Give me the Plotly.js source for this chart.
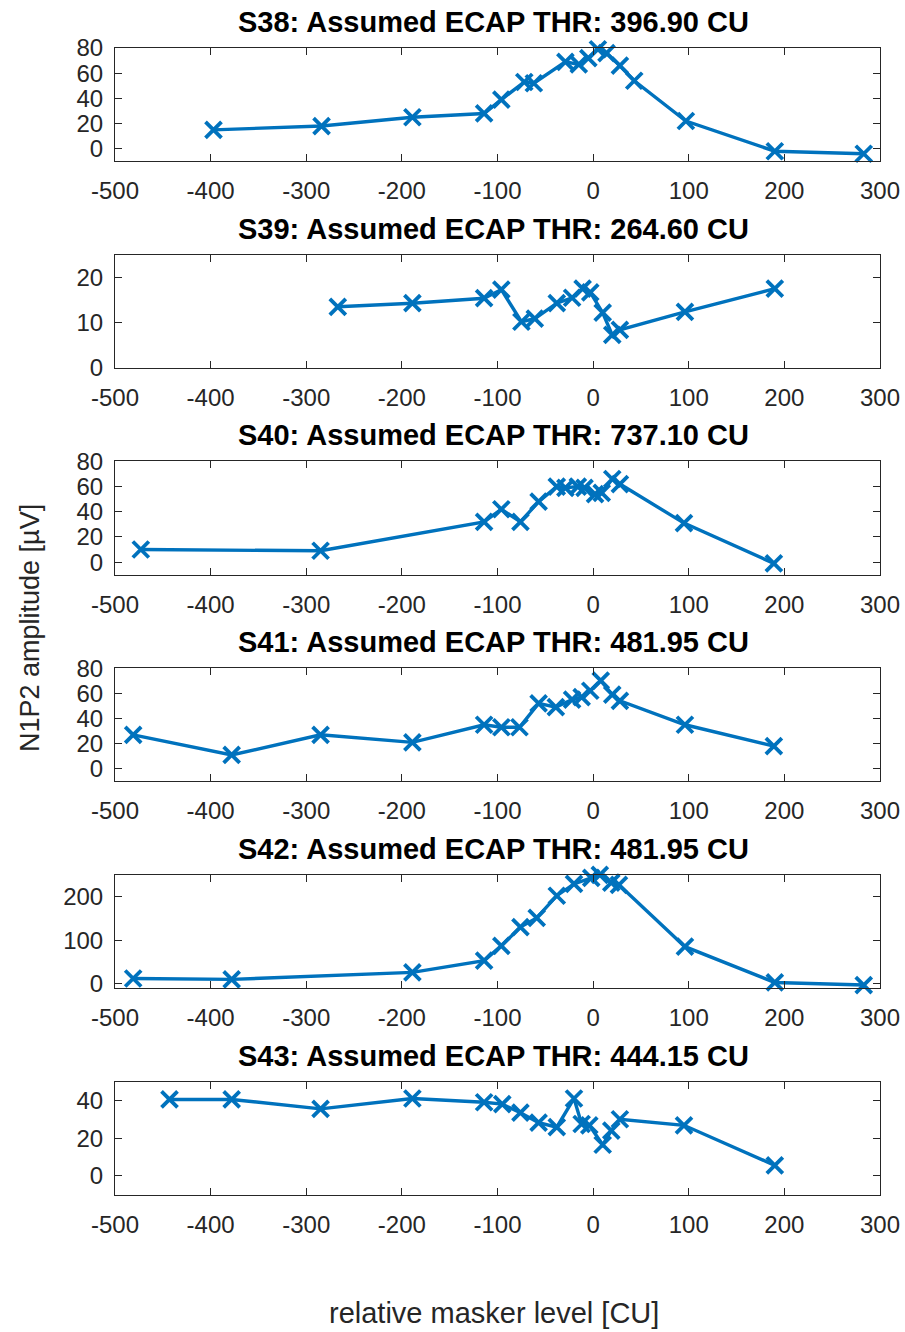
<!DOCTYPE html>
<html><head><meta charset="utf-8">
<script src="https://cdn.plot.ly/plotly-3.0.1.min.js"></script>
<style>html,body{margin:0;padding:0;background:#fff}</style>
</head><body><div id="chart" style="width:905px;height:1332px"></div>
<script>
// ---- data ----
const subjects = ['S38', 'S39', 'S40', 'S41', 'S42', 'S43'];
const thresholdsCU = ['396.90', '264.60', '737.10', '481.95', '481.95', '444.15'];

const xS38 = [-397, -284, -189, -114, -96, -72, -62, -29, -15, -5, 5, 14, 28, 43, 97, 190, 283];
const yS38 = [15, 18, 25, 28, 39, 53, 52, 69, 67, 72, 79, 76, 66, 54, 22, -2, -4];

const xS39 = [-267, -189, -114, -96, -75, -61, -38, -22, -11, -3, 10, 20, 28, 96, 190];
const yS39 = [13.5, 14.3, 15.4, 17.3, 10.2, 10.9, 14.3, 15.5, 17.5, 16.7, 12.2, 7.3, 8.4, 12.4, 17.5];

const xS40 = [-473, -285, -114, -96, -76, -57, -38, -29, -16, -9, 2, 9, 20, 28, 95, 189];
const yS40 = [10, 9, 32, 42, 32, 48, 60, 59, 60, 59, 54, 55, 66, 62, 31, -1];

const xS41 = [-481, -378, -285, -189, -114, -96, -77, -57, -39, -22, -12, -3, 8, 20, 28, 96, 189];
const yS41 = [27, 11, 27, 21, 35, 33, 33, 52, 49, 55, 57, 62, 70, 59, 54, 35, 18];

const xS42 = [-481, -378, -189, -114, -96, -76, -59, -38, -20, -2, 7, 19, 27, 96, 190, 283];
const yS42 = [12, 10, 26, 53, 87, 130, 151, 202, 229, 243, 250, 232, 227, 85, 3, -3];

const xS43 = [-443, -378, -285, -189, -114, -95, -76, -57, -38, -20, -12, -4, 10, 19, 28, 95, 190];
const yS43 = [40.5, 40.5, 35.5, 41, 39, 38, 33.5, 28.2, 25.8, 41, 27.5, 26.8, 16.5, 24, 30, 26.8, 5.6];

const xTickVals = [-500, -400, -300, -200, -100, 0, 100, 200, 300];
const yTickS38 = [0, 20, 40, 60, 80];
const yTickS39 = [0, 10, 20];
const yTickS40 = [0, 20, 40, 60, 80];
const yTickS41 = [0, 20, 40, 60, 80];
const yTickS42 = [0, 100, 200];
const yTickS43 = [0, 20, 40];

const xLabel = 'relative masker level [CU]';
const yLabel = 'N1P2 amplitude [µV]';

// ---- build ----
const xs = [xS38, xS39, xS40, xS41, xS42, xS43];
const ys = [yS38, yS39, yS40, yS41, yS42, yS43];
const yticks = [yTickS38, yTickS39, yTickS40, yTickS41, yTickS42, yTickS43];
const yRanges = [[-10, 80], [0, 25], [-10, 80], [-10, 80], [-10, 250], [-10, 50]];

const W = 905, H = 1332;
const mL = 115, mR = 25;
const plotW = W - mL - mR;
const lineColor = '#0072BD';
const axisColor = '#262626';
const fontFam = '"Liberation Sans", Arial, Helvetica, sans-serif';

const traces = [];
const layout = {
  width: W, height: H,
  margin: {l: mL, r: mR, t: 0, b: 0, pad: 0},
  paper_bgcolor: '#fff', plot_bgcolor: '#fff',
  showlegend: false,
  font: {family: fontFam, size: 24, color: axisColor},
  annotations: []
};

for (let i = 0; i < subjects.length; i++) {
  const n = i === 0 ? '' : String(i + 1);
  const topPx = 48 + 206.7 * i;
  const botPx = topPx + 113.3;
  traces.push({
    type: 'scatter', mode: 'lines+markers',
    x: xs[i], y: ys[i],
    xaxis: 'x' + n, yaxis: 'y' + n,
    line: {color: lineColor, width: 3.4},
    marker: {symbol: 'x-thin', size: 16, line: {color: lineColor, width: 3.8}, color: lineColor},
    cliponaxis: false,
    hoverinfo: 'skip'
  });
  const common = {
    showline: true, linecolor: axisColor, linewidth: 1,
    mirror: 'ticks', ticks: 'inside', ticklen: 7, tickwidth: 1, tickcolor: axisColor,
    showgrid: false, zeroline: false,
    tickfont: {family: fontFam, size: 24, color: axisColor}
  };
  layout['xaxis' + n] = Object.assign({}, common, {
    domain: [0, 1], anchor: 'y' + n, range: [-500, 300],
    tickmode: 'array', tickvals: xTickVals, ticktext: xTickVals.map(String),
    ticklabelstandoff: 8
  });
  layout['yaxis' + n] = Object.assign({}, common, {
    domain: [1 - botPx / H, 1 - topPx / H], anchor: 'x' + n,
    range: yRanges[i], tickmode: 'array', tickvals: yticks[i], ticktext: yticks[i].map(String),
    ticklabelstandoff: 6
  });
  layout.annotations.push({
    xref: 'paper', yref: 'paper', x: (493 - mL) / plotW, y: 1 - (topPx - 26) / H,
    xanchor: 'center', yanchor: 'middle', showarrow: false,
    text: '<b>' + subjects[i] + ': Assumed ECAP THR: ' + thresholdsCU[i] + ' CU</b>',
    font: {family: fontFam, size: 29, color: '#000'}
  });
}
layout.annotations.push({
  xref: 'paper', yref: 'paper', x: (494 - mL) / plotW, y: 1 - 1313 / H,
  xanchor: 'center', yanchor: 'middle', showarrow: false,
  text: xLabel, font: {family: fontFam, size: 29, color: axisColor}
});
layout.annotations.push({
  xref: 'paper', yref: 'paper', x: (30 - mL) / plotW, y: 1 - 628 / H,
  xanchor: 'center', yanchor: 'middle', showarrow: false, textangle: -90,
  text: yLabel, font: {family: fontFam, size: 27, color: axisColor}
});

Plotly.newPlot('chart', traces, layout, {staticPlot: true, displayModeBar: false});
</script></body></html>
